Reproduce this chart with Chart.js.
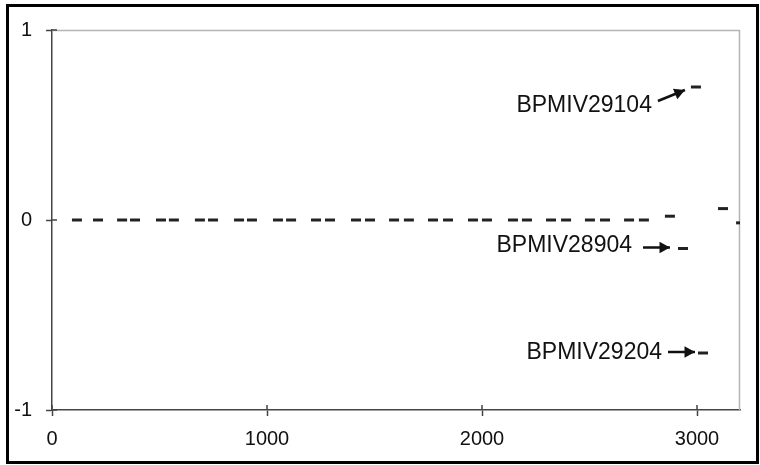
<!DOCTYPE html>
<html>
<head>
<meta charset="utf-8">
<script src="https://cdn.jsdelivr.net/npm/chart.js@4/dist/chart.umd.min.js"></script>
<style>
  html, body { margin: 0; padding: 0; background: #fff; }
  #wrap { position: relative; width: 760px; height: 465px; }
</style>
</head>
<body>
<div id="wrap"><canvas id="bpmChart" width="760" height="465"></canvas></div>
<script>
// --- data ---
var xTicks = [0, 1000, 2000, 3000];
var yTicks = [-1, 0, 1];

// unlabelled readings (dashes along zero)
var xValues = [116, 214, 326, 386, 507, 567, 688, 749, 870, 930, 1051, 1112,
               1228, 1293, 1414, 1479, 1591, 1660, 1772, 1842, 1958, 2023,
               2144, 2209, 2321, 2391, 2502, 2572, 2684, 2753, 2874, 3121, 3205];
var yValues = [0, 0, 0, 0, 0, 0, 0, 0, 0, 0, 0, 0,
               0, 0, 0, 0, 0, 0, 0, 0, 0, 0,
               0, 0, 0, 0, 0, 0, 0, 0, 0.02, 0.06, -0.015];

// labelled readings
var labelNames = ['BPMIV29104', 'BPMIV28904', 'BPMIV29204'];
var labelX     = [2995, 2935, 3028];
var labelY     = [0.70, -0.15, -0.70];

// where each label sits relative to its point (px)
var labelOffsets = [
    { tx: -44, ty: 19, ax0: -38, ay0: 14, ax1: -11, ay1: 3 },
    { tx: -51, ty: -3, ax0: -40, ay0: -1, ax1: -13, ay1: -1 },
    { tx: -41, ty: 0,  ax0: -35, ay0: -1, ax1: -8,  ay1: -1 }
];

var mainPoints = xValues.map(function (x, i) { return { x: x, y: yValues[i] }; });
var labelPoints = labelX.map(function (x, i) { return { x: x, y: labelY[i] }; });

var TEXT = '#111';
var FONT = 'Liberation Sans, Arial, sans-serif';

// outer frame + light plot border + inner half of the cross ticks
var framePlugin = {
    id: 'frame',
    beforeDatasetsDraw: function (chart) {
        var c = chart.ctx, a = chart.chartArea;
        var xs = chart.scales.x, ys = chart.scales.y;
        c.save();
        c.strokeStyle = '#b4b4b4';
        c.lineWidth = 1.5;
        c.beginPath();
        c.moveTo(a.left, a.top + 0.5);
        c.lineTo(a.right - 0.5, a.top + 0.5);
        c.lineTo(a.right - 0.5, a.bottom);
        c.stroke();
        // ticks cross the axes, Excel style
        c.strokeStyle = '#444';
        c.beginPath();
        xTicks.forEach(function (v) {
            var px = xs.getPixelForValue(v);
            c.moveTo(px, a.bottom);
            c.lineTo(px, a.bottom - 5);
        });
        yTicks.forEach(function (v) {
            var py = ys.getPixelForValue(v);
            c.moveTo(a.left, py);
            c.lineTo(a.left + 5, py);
        });
        c.stroke();
        c.restore();
    },
    afterDraw: function (chart) {
        var c = chart.ctx;
        c.save();
        c.strokeStyle = '#000';
        c.lineWidth = 3;
        c.strokeRect(7.5, 5.5, 750, 457);
        c.restore();
    }
};

// text labels with arrows
var labelPlugin = {
    id: 'pointLabels',
    afterDatasetsDraw: function (chart) {
        var c = chart.ctx;
        var xs = chart.scales.x, ys = chart.scales.y;
        c.save();
        c.font = '23px ' + FONT;
        c.fillStyle = TEXT;
        c.strokeStyle = TEXT;
        c.textAlign = 'right';
        c.textBaseline = 'middle';
        for (var i = 0; i < labelNames.length; i++) {
            var px = xs.getPixelForValue(labelX[i]);
            var py = ys.getPixelForValue(labelY[i]);
            var o = labelOffsets[i];
            c.fillText(labelNames[i], px + o.tx, py + o.ty);
            var x0 = px + o.ax0, y0 = py + o.ay0, x1 = px + o.ax1, y1 = py + o.ay1;
            c.lineWidth = 2.5;
            c.beginPath();
            c.moveTo(x0, y0);
            c.lineTo(x1, y1);
            c.stroke();
            var ang = Math.atan2(y1 - y0, x1 - x0);
            c.beginPath();
            c.moveTo(x1, y1);
            c.lineTo(x1 - 12 * Math.cos(ang - 0.5), y1 - 12 * Math.sin(ang - 0.5));
            c.lineTo(x1 - 12 * Math.cos(ang + 0.5), y1 - 12 * Math.sin(ang + 0.5));
            c.closePath();
            c.fill();
        }
        c.restore();
    }
};

var ctx = document.getElementById('bpmChart').getContext('2d');
var bpmChart = new Chart(ctx, {
    type: 'scatter',
    data: {
        datasets: [{
            data: mainPoints,
            pointStyle: 'line',
            pointRadius: 5,
            pointBorderWidth: 3,
            borderColor: '#222',
            backgroundColor: '#222'
        },
        {
            data: labelPoints,
            pointStyle: 'line',
            pointRadius: 5,
            pointBorderWidth: 3,
            borderColor: '#222',
            backgroundColor: '#222'
        }]
    },
    options: {
        responsive: false,
        animation: false,
        events: [],
        layout: { padding: { left: 12, top: 30, right: 20, bottom: 6 } },
        plugins: {
            legend: { display: false },
            tooltip: { enabled: false }
        },
        scales: {
            x: {
                type: 'linear',
                min: 0,
                max: 3200,
                afterBuildTicks: function (scale) {
                    scale.ticks = xTicks.map(function (v) { return { value: v }; });
                },
                afterFit: function (scale) { scale.height = 49; },
                grid: { drawOnChartArea: false, color: '#444', tickLength: 6, tickWidth: 1.5 },
                border: { color: '#444', width: 1.5 },
                ticks: {
                    padding: 11,
                    color: TEXT,
                    font: { family: FONT, size: 20 },
                    maxRotation: 0,
                    callback: function (v) { return String(v); }
                }
            },
            y: {
                type: 'linear',
                min: -1,
                max: 1,
                afterBuildTicks: function (scale) {
                    scale.ticks = yTicks.map(function (v) { return { value: v }; });
                },
                afterFit: function (scale) { scale.width = 40; },
                grid: { drawOnChartArea: false, color: '#444', tickLength: 6, tickWidth: 1.5 },
                border: { color: '#444', width: 1.5 },
                ticks: {
                    padding: 14,
                    color: TEXT,
                    font: { family: FONT, size: 20 },
                    callback: function (v) { return String(v); }
                }
            }
        }
    },
    plugins: [framePlugin, labelPlugin]
});
</script>
</body>
</html>
